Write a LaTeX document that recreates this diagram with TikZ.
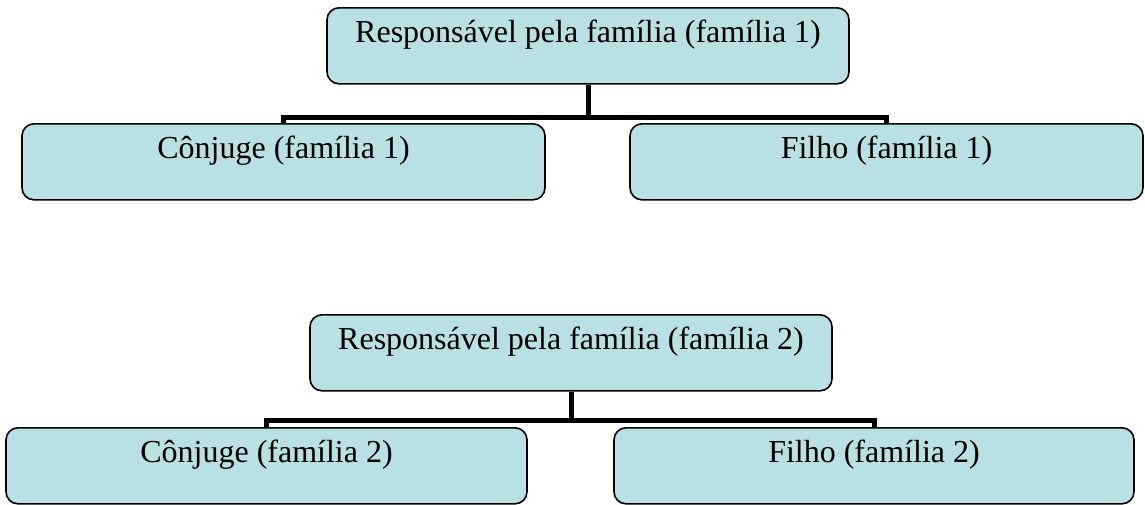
\documentclass[tikz,border=0pt]{standalone}
\usepackage{fontspec}
\setmainfont{Liberation Serif}
\usepackage{tikz}
\definecolor{famcyan}{RGB}{185,224,227}

\begin{document}
\begin{tikzpicture}[x=1pt,y=1pt]
        \tikzset{FamBox/.style={draw = black, line width = 1.6pt,
        fill = famcyan, rounded corners = 12pt, anchor = north,
        inner xsep = 0pt, inner ysep = 0pt,
        text height = 35pt, text depth = 41pt,
        font = \fontsize{32}{38}\selectfont}}
        \tikzset{FamEdge/.style={line width = 5pt}}
        \useasboundingbox (0,0) rectangle (1145,-504);
        \node[FamBox, minimum width = 522pt] (resp1) at (588,-7) {Responsável pela família (família 1)};
        \node[FamBox, minimum width = 523pt] (conj1) at (283.5,-123) {Cônjuge (família 1)};
        \node[FamBox, minimum width = 513pt] (filho1) at (886.5,-123) {Filho (família 1)};
        \node[FamBox, minimum width = 522pt] (resp2) at (571,-314) {Responsável pela família (família 2)};
        \node[FamBox, minimum width = 521pt] (conj2) at (266.5,-427) {Cônjuge (família 2)};
        \node[FamBox, minimum width = 520pt] (filho2) at (874,-427) {Filho (família 2)};
        \draw[FamEdge] (resp1.south) -- ++(0,-33) -| (conj1.north);
        \draw[FamEdge] (resp1.south) -- ++(0,-33) -| (filho1.north);
        \draw[FamEdge] (resp2.south) -- ++(0,-29) -| (conj2.north);
        \draw[FamEdge] (resp2.south) -- ++(0,-29) -| (filho2.north);
    \end{tikzpicture}
\end{document}
